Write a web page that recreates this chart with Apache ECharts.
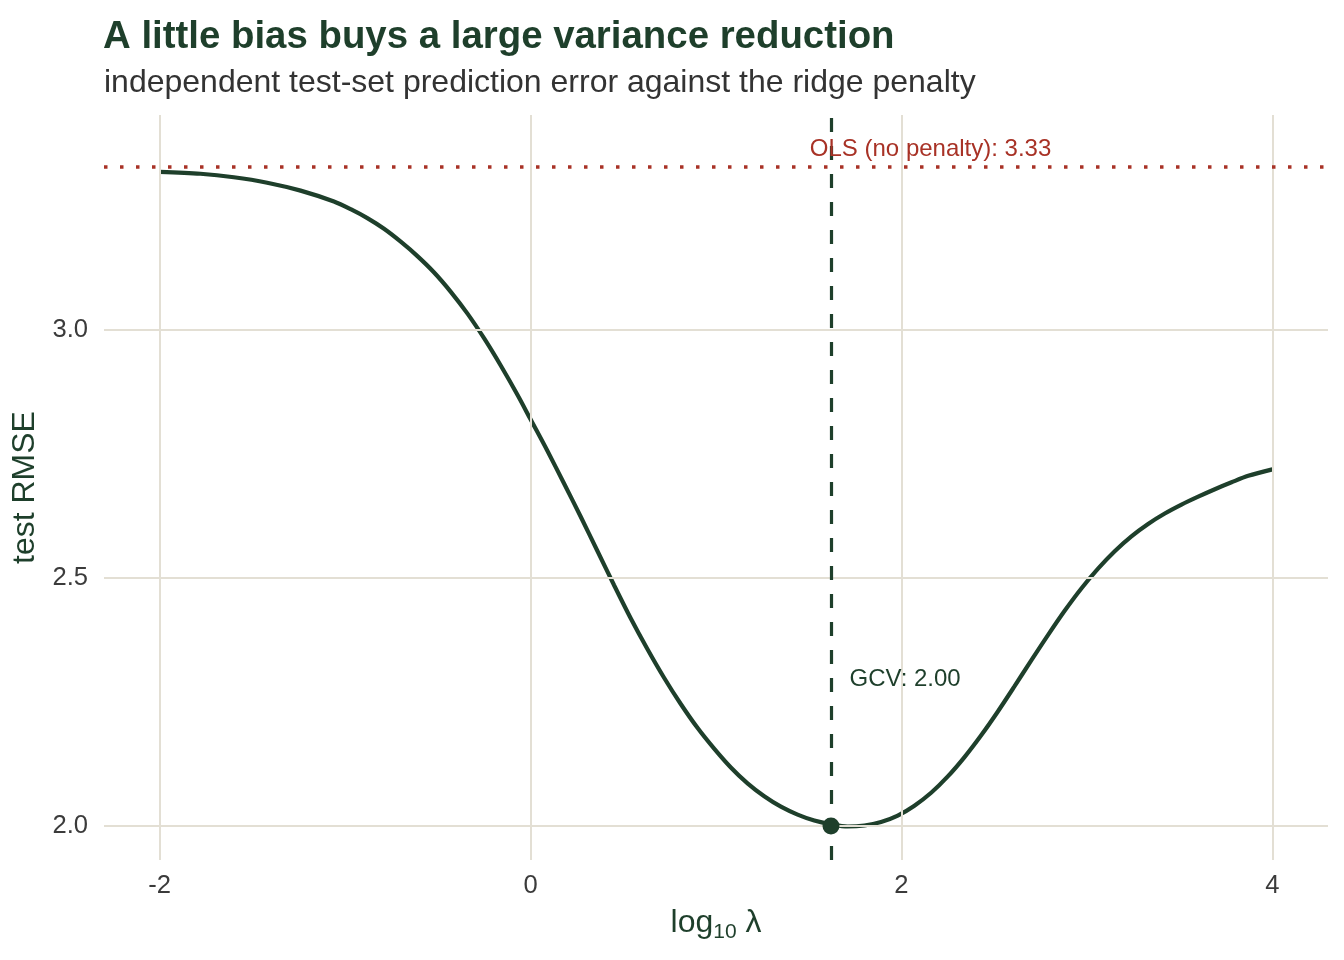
<!DOCTYPE html>
<html>
<head>
<meta charset="utf-8">
<script src="https://cdn.jsdelivr.net/npm/echarts@6/dist/echarts.min.js"></script>
<style>
  html, body { margin: 0; padding: 0; background: #fff; }
  #main { width: 1344px; height: 960px; }
</style>
</head>
<body>
<div id="main"></div>
<script>
// log10(lambda) grid and the test RMSE
var logLambda = [-2.00, -1.78, -1.60, -1.42, -1.24, -1.06, -0.97, -0.88, -0.79, -0.70, -0.61, -0.52, -0.43, -0.34, -0.25, -0.16, -0.07,
  0.00, 0.09, 0.18, 0.27, 0.36, 0.45, 0.54, 0.63, 0.72, 0.81, 0.90, 0.99, 1.08, 1.17, 1.26, 1.35, 1.44, 1.53, 1.62, 1.71, 1.80, 1.89, 1.98,
  2.07, 2.16, 2.25, 2.34, 2.43, 2.52, 2.61, 2.70, 2.79, 2.88, 2.97, 3.06, 3.15, 3.24, 3.33, 3.42, 3.51, 3.60, 3.69, 3.78, 3.87, 4.00];
var testRmse = [3.319, 3.315, 3.308, 3.297, 3.281, 3.259, 3.2435, 3.2255, 3.204, 3.178, 3.149, 3.116, 3.077, 3.033, 2.983, 2.928, 2.869,
  2.820, 2.757, 2.691, 2.624, 2.555, 2.486, 2.419, 2.357, 2.299, 2.246, 2.198, 2.156, 2.118, 2.086, 2.060, 2.039, 2.023, 2.011, 2.0035, 1.999, 2.001, 2.008, 2.021,
  2.041, 2.067, 2.100, 2.139, 2.183, 2.231, 2.282, 2.334, 2.385, 2.434, 2.479, 2.519, 2.554, 2.584, 2.609, 2.630, 2.648, 2.664, 2.679, 2.693, 2.706, 2.719];

// reference values
var olsRmse = 3.33;
var gcvLogLambda = 1.62;
var gcvRmse = 2.00;

// tick labels
var xTicks = [-2, 0, 2, 4];
var yTicks = [2.0, 2.5, 3.0];

// annotation anchors (data coords)
var olsLabelAt = [2.157, 3.365];
var gcvLabelAt = [1.72, 2.296];

var green = '#1e3f2b';
var red = '#a83226';
var gridCol = '#e3dfd4';
var tickCol = '#3b3b3b';

var curve = logLambda.map(function (x, i) { return [x, testRmse[i]]; });

var myChart = echarts.init(document.getElementById('main'));
var option = {
  backgroundColor: '#fff',
  animation: false,
  title: [{
    text: 'A little bias buys a large variance reduction',
    left: 98,
    top: 13,
    textStyle: { fontFamily: 'Liberation Sans', fontSize: 38.4, fontWeight: 'bold', color: green }
  }, {
    text: 'independent test-set prediction error against the ridge penalty',
    left: 99,
    top: 62,
    textStyle: { fontFamily: 'Liberation Sans', fontSize: 32, fontWeight: 'normal', color: '#333' }
  }],
  grid: { left: 104, right: 16, top: 115, bottom: 100 },
  xAxis: {
    type: 'value',
    min: -2.3,
    max: 4.3,
    name: '{a|log}{b|10}{a| λ}',
    nameLocation: 'middle',
    nameGap: 43,
    nameTextStyle: {
      rich: {
        a: { fontFamily: 'Liberation Sans', fontSize: 32, color: green, lineHeight: 32 },
        b: { fontFamily: 'Liberation Sans', fontSize: 21, color: green, lineHeight: 40, verticalAlign: 'bottom' }
      }
    },
    axisLine: { show: false },
    axisTick: { show: false },
    splitLine: { show: false },
    axisLabel: {
      customValues: xTicks,
      margin: 13,
      fontFamily: 'Liberation Sans',
      fontSize: 25.6,
      color: tickCol
    }
  },
  yAxis: {
    type: 'value',
    min: 1.9315,
    max: 3.4335,
    name: 'test RMSE',
    nameLocation: 'middle',
    nameGap: 49,
    nameTextStyle: { fontFamily: 'Liberation Sans', fontSize: 32, color: green },
    axisLine: { show: false },
    axisTick: { show: false },
    splitLine: { show: false },
    axisLabel: {
      customValues: yTicks,
      margin: 16,
      fontFamily: 'Liberation Sans',
      fontSize: 25.6,
      color: tickCol,
      formatter: function (v) { return v.toFixed(1); }
    }
  },
  series: [
    {
      // panel grid lines at the tick values
      type: 'line',
      data: [],
      silent: true,
      z: 1,
      markLine: {
        silent: true,
        symbol: 'none',
        label: { show: false },
        lineStyle: { color: gridCol, width: 2, type: 'solid' },
        data: xTicks.map(function (v) { return { xAxis: v }; })
          .concat(yTicks.map(function (v) { return { yAxis: v }; }))
      }
    },
    {
      type: 'line',
      data: [],
      silent: true,
      z: 3,
      markLine: {
        silent: true,
        symbol: 'none',
        label: { show: false },
        data: [
          { yAxis: olsRmse, lineStyle: { color: red, width: 3.5, type: [3.5, 12.5] } },
          { xAxis: gcvLogLambda, lineStyle: { color: green, width: 3.2, type: [14, 14] } }
        ]
      }
    },
    {
      type: 'line',
      data: curve,
      smooth: 0.3,
      showSymbol: false,
      z: 4,
      lineStyle: { color: green, width: 4.2 },
      itemStyle: { color: green }
    },
    {
      type: 'scatter',
      z: 5,
      data: [[gcvLogLambda, gcvRmse]],
      symbolSize: 17,
      itemStyle: { color: green, opacity: 1 }
    },
    {
      type: 'scatter',
      z: 5,
      symbolSize: 0,
      itemStyle: { opacity: 1 },
      data: [
        { value: olsLabelAt, label: { formatter: 'OLS (no penalty): ' + olsRmse.toFixed(2), color: red, position: 'inside' } },
        { value: gcvLabelAt, label: { formatter: 'GCV: ' + gcvRmse.toFixed(2), color: green, position: 'right', distance: 0 } }
      ],
      label: { show: true, fontFamily: 'Liberation Sans', fontSize: 24, textBorderWidth: 0 }
    }
  ]
};
myChart.setOption(option);
window.addEventListener('resize', function () {
  myChart.resize();
});
</script>
</body>
</html>
